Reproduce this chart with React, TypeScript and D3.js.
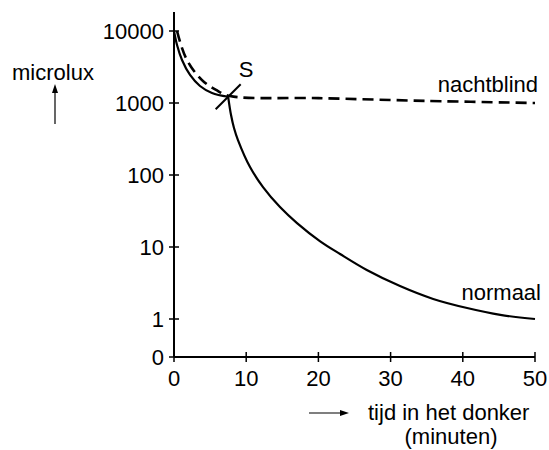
import React, { useRef, useEffect } from "react";
import * as d3 from "d3";

// minutes in the dark vs. threshold (microlux)
const normaalCone: [number, number][] = [
  [0, 10000], [0.42, 6390], [1.11, 3960], [2.22, 2450], [3.6, 1722], [5.26, 1377], [7.5, 1220],
];
const normaalRod: [number, number][] = [
  [7.5, 1220], [7.9, 681], [8.31, 450], [8.86, 306], [10.53, 129], [12.33, 68],
  [14.68, 35.9], [17.04, 21.5], [20.2, 12.1], [23.0, 8.0], [26.7, 4.8], [31.3, 2.87],
  [35.9, 1.9], [40.6, 1.42], [45.2, 1.14], [50, 1.0],
];
const nachtblind: [number, number][] = [
  [0.42, 10000], [0.97, 6390], [1.66, 4220], [2.77, 2780], [4.16, 1960], [5.82, 1517],
  [7.76, 1250], [20, 1170], [35, 1070], [50, 1000],
];
const xTicks = [0, 10, 20, 30, 40, 50];
const yTicks = [1, 10, 100, 1000, 10000];
const pointS: [number, number] = [7.5, 1220];

const W = 549;
const H = 450;
const FONT = "Liberation Sans, Arial, sans-serif";
const FS = 22;

const App: React.FC = () => {
  const svgRef = useRef<SVGSVGElement | null>(null);

  useEffect(() => {
    if (!svgRef.current) return;
    const svg = d3.select(svgRef.current);
    svg.selectAll("*").remove();

    const x = d3.scaleLinear().domain([0, 50]).range([174, 535]);
    const y = d3.scaleLog().domain([1, 10000]).range([319, 31]);
    const y0 = 357; // position of the "0" label / x axis

    const g = svg.append("g").style("font-family", FONT).attr("fill", "#000");

    // axes
    g.append("line")
      .attr("x1", x(0)).attr("x2", x(0))
      .attr("y1", y0).attr("y2", 12)
      .attr("stroke", "#000").attr("stroke-width", 2);
    g.append("line")
      .attr("x1", x(0)).attr("x2", x(50))
      .attr("y1", y0).attr("y2", y0)
      .attr("stroke", "#000").attr("stroke-width", 2);

    // y ticks
    const yt = g.append("g");
    yTicks.forEach((v) => {
      yt.append("line")
        .attr("x1", x(0) - 5).attr("x2", x(0) + 5)
        .attr("y1", y(v)).attr("y2", y(v))
        .attr("stroke", "#000").attr("stroke-width", 1.5);
      yt.append("text")
        .attr("x", x(0) - 10).attr("y", y(v))
        .attr("dy", "0.36em").attr("text-anchor", "end")
        .attr("font-size", FS).text(String(v));
    });
    yt.append("line")
      .attr("x1", x(0) - 5).attr("x2", x(0))
      .attr("y1", y0).attr("y2", y0)
      .attr("stroke", "#000").attr("stroke-width", 1.5);
    yt.append("text")
      .attr("x", x(0) - 10).attr("y", y0)
      .attr("dy", "0.36em").attr("text-anchor", "end")
      .attr("font-size", FS).text("0");

    // x ticks
    xTicks.forEach((v) => {
      g.append("line")
        .attr("x1", x(v)).attr("x2", x(v))
        .attr("y1", y0 - 5).attr("y2", y0 + 5)
        .attr("stroke", "#000").attr("stroke-width", 1.5);
      g.append("text")
        .attr("x", x(v)).attr("y", 386)
        .attr("text-anchor", "middle")
        .attr("font-size", FS).text(String(v));
    });

    const line = d3
      .line<[number, number]>()
      .x((d) => x(d[0]))
      .y((d) => y(d[1]))
      .curve(d3.curveCatmullRom.alpha(0.5));

    // normaal
    [normaalCone, normaalRod].forEach((seg) => {
      g.append("path")
        .attr("d", line(seg))
        .attr("fill", "none").attr("stroke", "#000").attr("stroke-width", 2.2);
    });

    // nachtblind
    g.append("path")
      .attr("d", line(nachtblind))
      .attr("fill", "none").attr("stroke", "#000").attr("stroke-width", 2.6)
      .attr("stroke-dasharray", "11,6");

    // S marker
    const sx = x(pointS[0]);
    const sy = y(pointS[1]);
    g.append("line")
      .attr("x1", sx - 12.5).attr("y1", sy + 12.5)
      .attr("x2", sx + 12.5).attr("y2", sy - 12.5)
      .attr("stroke", "#000").attr("stroke-width", 2);
    g.append("text")
      .attr("x", sx + 18).attr("y", sy - 20)
      .attr("text-anchor", "middle").attr("font-size", FS).text("S");

    // series labels
    g.append("text").attr("x", 538).attr("y", 92)
      .attr("text-anchor", "end").attr("font-size", FS).text("nachtblind");
    g.append("text").attr("x", 541).attr("y", 300)
      .attr("text-anchor", "end").attr("font-size", FS).text("normaal");

    // y title
    g.append("text").attr("x", 12).attr("y", 80)
      .attr("font-size", FS).text("microlux");
    g.append("line")
      .attr("x1", 55).attr("x2", 55).attr("y1", 124).attr("y2", 90)
      .attr("stroke", "#000").attr("stroke-width", 1.2);
    g.append("path")
      .attr("d", "M55,84 L52,93 L58,93 Z").attr("fill", "#000");

    // x title
    g.append("line")
      .attr("x1", 309).attr("x2", 342).attr("y1", 413).attr("y2", 413)
      .attr("stroke", "#000").attr("stroke-width", 1.2);
    g.append("path")
      .attr("d", "M349,413 L340,410 L340,416 Z").attr("fill", "#000");
    g.append("text").attr("x", 368).attr("y", 420)
      .attr("font-size", FS).text("tijd in het donker");
    g.append("text").attr("x", 451).attr("y", 444)
      .attr("text-anchor", "middle").attr("font-size", FS).text("(minuten)");
  }, []);

  return (
    <svg
      ref={svgRef}
      width={W}
      height={H}
      style={{ position: "absolute", left: 0, top: 0, background: "#fff" }}
    />
  );
};

export default App;
